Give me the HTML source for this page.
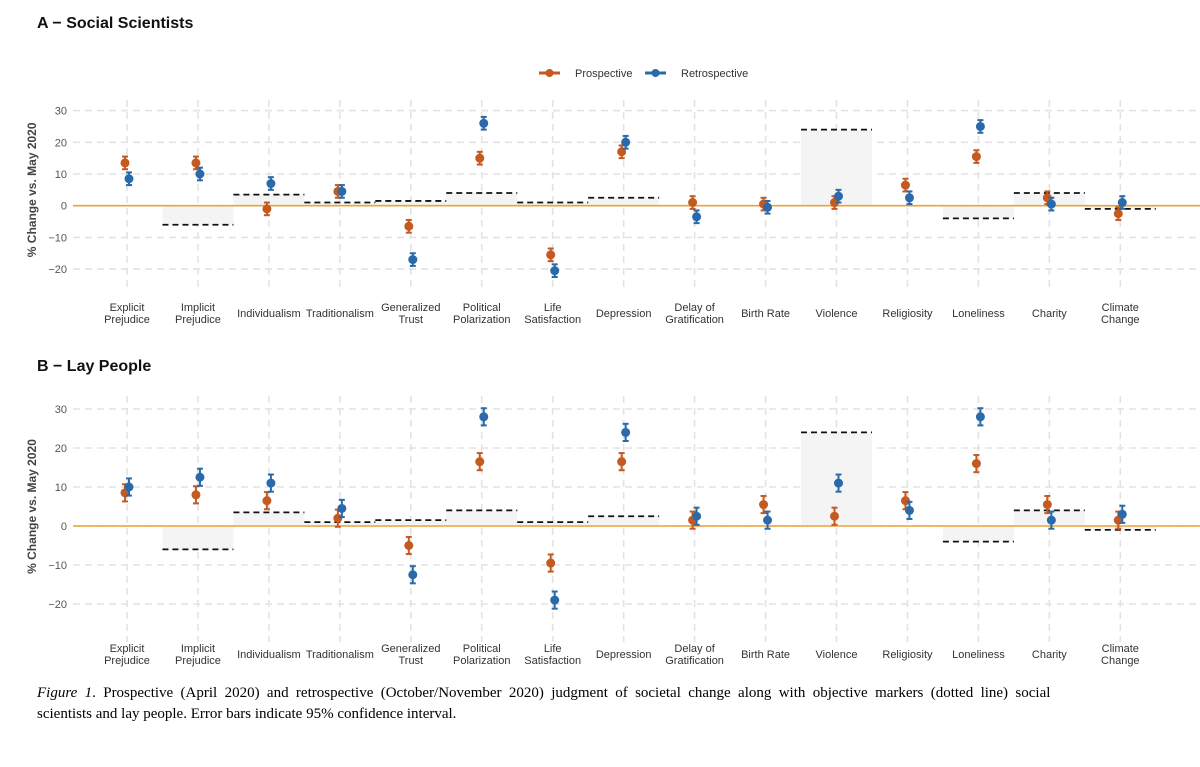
<!DOCTYPE html>
<html><head><meta charset="utf-8"><style>
body{margin:0;background:#fff;width:1200px;height:762px;overflow:hidden}
svg text{font-family:"Liberation Sans",sans-serif}
</style></head><body>
<svg id="c" width="1200" height="762" xmlns="http://www.w3.org/2000/svg">
<text x="37" y="28" font-size="16" font-weight="bold" fill="#111">A − Social Scientists</text>
<text x="37" y="371" font-size="16" font-weight="bold" fill="#111">B − Lay People</text>
<g>
<g><line x1="539" y1="73" x2="560" y2="73" stroke="#C45A1F" stroke-width="3"/><circle cx="549.5" cy="73" r="4" fill="#C45A1F"/><text x="575" y="77" font-size="11" fill="#333">Prospective</text></g>
<g><line x1="645" y1="73" x2="666" y2="73" stroke="#2A6AAA" stroke-width="3"/><circle cx="655.5" cy="73" r="4" fill="#2A6AAA"/><text x="681" y="77" font-size="11" fill="#333">Retrospective</text></g>
</g>
<text x="37" y="697" font-size="15" fill="#000" word-spacing="3.6" style="font-family:'Liberation Serif',serif"><tspan font-style="italic">Figure 1</tspan>. Prospective (April 2020) and retrospective (October/November 2020) judgment of societal change along with objective markers (dotted line) social</text>
<text x="37" y="718" font-size="15" fill="#000" style="font-family:'Liberation Serif',serif">scientists and lay people. Error bars indicate 95% confidence interval.</text>
</svg>
<script>
const categories=[["Explicit","Prejudice"],["Implicit","Prejudice"],["Individualism"],["Traditionalism"],["Generalized","Trust"],["Political","Polarization"],["Life","Satisfaction"],["Depression"],["Delay of","Gratification"],["Birth Rate"],["Violence"],["Religiosity"],["Loneliness"],["Charity"],["Climate","Change"]];
const objective=[null,-6,3.5,1,1.5,4,1,2.5,null,null,24,null,-4,4,-1];
const aProspective=[13.5,13.5,-1,4.5,-6.5,15,-15.5,17,1,0.5,1,6.5,15.5,2.5,-2.5];
const aRetrospective=[8.5,10,7,4.5,-17,26,-20.5,20,-3.5,-0.5,3,2.5,25,0.5,1];
const bProspective=[8.5,8,6.5,2,-5,16.5,-9.5,16.5,1.5,5.5,2.5,6.5,16,5.5,1.5];
const bRetrospective=[10,12.5,11,4.5,-12.5,28,-19,24,2.5,1.5,11,4,28,1.5,3];
const yTicks=[30,20,10,0,-10,-20];
const ciA=2,ciB=2.2;
const NS="http://www.w3.org/2000/svg";
const svg=document.getElementById('c');
function el(t,a,p){const e=document.createElementNS(NS,t);for(const k in a)e.setAttribute(k,a[k]);(p||svg).appendChild(e);return e;}
const xOf=i=>127+i*70.95;
function panel(name,y0,scale,gTop,gBot,labY,pro,ret,ci){
  const y=v=>y0-v*scale;
  const g=el('g',{});
  
  
  yTicks.forEach(t=>{
    const l=el('line',{x1:73,x2:1200,y1:y(t),y2:y(t),stroke:'#e3e3e3','stroke-width':1.6,'stroke-dasharray':'7,5'},g);
    
    
    const tx=el('text',{x:67,y:y(t)+4,'font-size':11,fill:'#555','text-anchor':'end'},g);
    tx.textContent=t<0?'−'+(-t):String(t);
    
    
  });
  categories.forEach((c,i)=>{
    const l=el('line',{x1:xOf(i),x2:xOf(i),y1:gTop,y2:gBot,stroke:'#e3e3e3','stroke-width':1.6,'stroke-dasharray':'7,5'},g);
    
    
    const tx=el('text',{x:xOf(i),y:c.length>1?labY:labY+6,'font-size':11,fill:'#333','text-anchor':'middle'},g);
    c.forEach((s,k)=>{const ts=el('tspan',{x:xOf(i),dy:k?12:0},tx);ts.textContent=s;});
    
    
  });
  objective.forEach((v,i)=>{
    if(v===null)return;
    const r=el('rect',{x:xOf(i)-35.5,width:71,y:Math.min(y(v),y0),height:Math.abs(y(v)-y0),fill:'#f4f4f4'},g);
    
    
  });
  const z=el('line',{x1:73,x2:1200,y1:y0,y2:y0,stroke:'#EBA339','stroke-width':1.6},g);
  
  
  objective.forEach((v,i)=>{
    if(v===null)return;
    const l=el('line',{x1:xOf(i)-35.5,x2:xOf(i)+35.5,y1:y(v),y2:y(v),stroke:'#111','stroke-width':1.8,'stroke-dasharray':'6,4'},g);
    
    
  });
  [[pro,'#C45A1F',-2,'prospective-point'],[ret,'#2A6AAA',2,'retrospective-point']].forEach(([arr,col,dx,nm])=>{
    arr.forEach((v,i)=>{
      const x=xOf(i)+dx;
      const pg=el('g',{},g);
      
      
      el('line',{x1:x,x2:x,y1:y(v+ci),y2:y(v-ci),stroke:col,'stroke-width':2},pg);
      el('line',{x1:x-3,x2:x+3,y1:y(v+ci),y2:y(v+ci),stroke:col,'stroke-width':2},pg);
      el('line',{x1:x-3,x2:x+3,y1:y(v-ci),y2:y(v-ci),stroke:col,'stroke-width':2},pg);
      el('circle',{cx:x,cy:y(v),r:4.5,fill:col},pg);
    });
  });
  const at=el('text',{transform:`translate(36,${y(5)}) rotate(-90)`,'font-size':12,'font-weight':'bold',fill:'#444','text-anchor':'middle'},g);
  at.textContent='% Change vs. May 2020';
  
  
}
panel('panel-a-chart',205.7,3.17,100,292,311,aProspective,aRetrospective,ciA);
panel('panel-b-chart',526,3.9,396,642,652,bProspective,bRetrospective,ciB);
</script>
</body></html>
